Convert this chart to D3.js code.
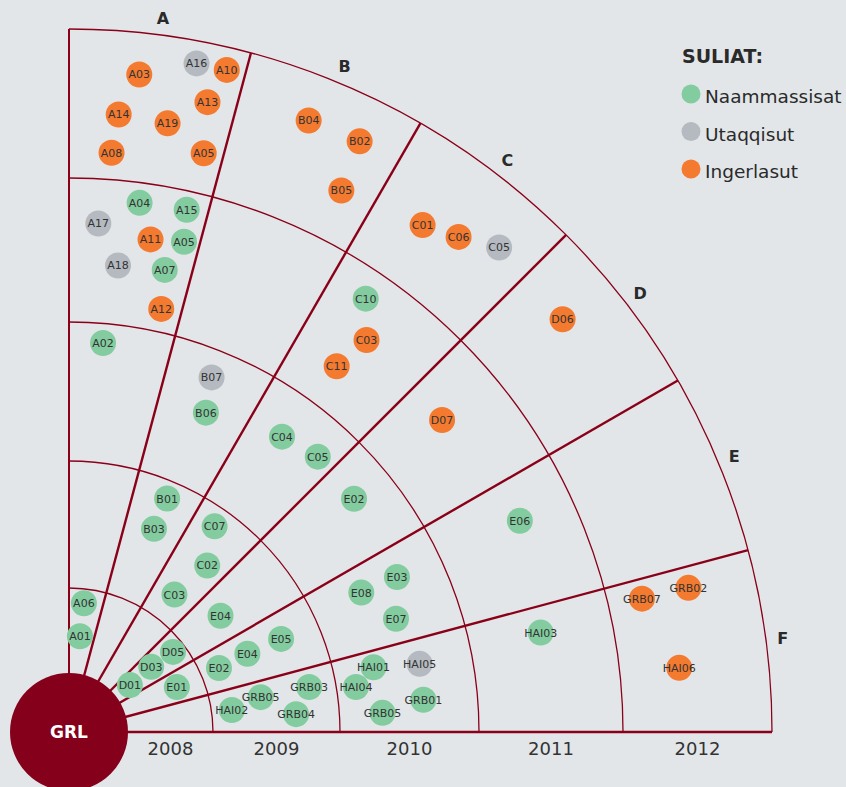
<!DOCTYPE html>
<html>
<head>
<meta charset="utf-8">
<script src="https://cdn.jsdelivr.net/npm/d3@7"></script>
<style>
  body { margin: 0; background: #e2e6e9; }
  svg { display: block; font-family: "DejaVu Sans", sans-serif; }
</style>
</head>
<body>
<div id="chart"></div>
<script>
// sectors (A at the top, F along the baseline)
const sectors = ["A", "B", "C", "D", "E", "F"];
// year rings
const years = [2008, 2009, 2010, 2011, 2012];
// legend / status names
const statuses = ["Naammassisat", "Utaqqisut", "Ingerlasut"];

// [label, status index, position along the years, angle in degrees above the baseline]
const points = [
  ["A03", 2, 2012.22, 83.9], ["A16", 1, 2012.35, 79.2], ["A10", 2, 2012.35, 76.6],
  ["A13", 2, 2012.11, 77.6], ["A14", 2, 2011.94, 85.4], ["A19", 2, 2011.92, 80.8],
  ["A08", 2, 2011.68, 85.8], ["A05", 2, 2011.77, 76.9], ["A04", 0, 2011.36, 82.4],
  ["A15", 0, 2011.37, 77.3], ["A17", 1, 2011.19, 86.7], ["A11", 2, 2011.12, 80.6],
  ["A05", 0, 2011.15, 76.8], ["A18", 1, 2010.91, 84.0], ["A07", 0, 2010.93, 78.3],
  ["A12", 2, 2010.66, 77.7], ["A02", 0, 2010.36, 85.0], ["A06", 0, 2008.33, 83.4],
  ["A01", 0, 2007.94, 83.5],
  ["B04", 2, 2012.19, 68.6], ["B02", 2, 2012.20, 63.8], ["B05", 2, 2011.85, 63.3],
  ["B07", 1, 2010.30, 68.1], ["B06", 0, 2010.05, 66.8], ["B01", 0, 2009.36, 67.2],
  ["B03", 0, 2009.10, 67.3],
  ["C01", 2, 2011.93, 55.1], ["C06", 2, 2012.01, 51.8], ["C05", 1, 2012.13, 48.4],
  ["C10", 0, 2011.30, 55.6], ["C03", 2, 2011.07, 52.8], ["C11", 2, 2010.80, 53.8],
  ["C04", 0, 2010.17, 54.2], ["C05", 0, 2010.22, 47.9], ["C07", 0, 2009.35, 54.7],
  ["C02", 0, 2009.07, 50.3], ["C03", 0, 2008.73, 52.5],
  ["D06", 2, 2012.10, 39.9], ["D07", 2, 2011.03, 39.9], ["E02", 0, 2010.20, 39.3],
  ["E04", 0, 2008.87, 37.5], ["D05", 0, 2008.35, 37.6], ["D03", 0, 2008.04, 38.4],
  ["D01", 0, 2007.71, 37.6],
  ["E06", 0, 2011.11, 25.1], ["E03", 0, 2010.16, 25.3], ["E08", 0, 2009.88, 25.5],
  ["E07", 0, 2010.04, 19.1], ["E05", 0, 2009.19, 23.7], ["E04", 0, 2008.90, 23.7],
  ["E02", 0, 2008.65, 23.1], ["E01", 0, 2008.18, 22.6],
  ["HAI02", 0, 2008.66, 7.7], ["GRB05", 0, 2008.90, 10.3], ["GRB03", 0, 2009.29, 10.6],
  ["GRB04", 0, 2009.16, 4.5], ["HAI01", 0, 2009.79, 12.0], ["HAI05", 1, 2010.12, 11.0],
  ["HAI04", 0, 2009.64, 8.9], ["GRB01", 0, 2010.11, 5.2], ["GRB05", 0, 2009.81, 3.5],
  ["HAI03", 0, 2011.00, 11.9], ["GRB07", 2, 2011.73, 13.1], ["GRB02", 2, 2012.05, 13.1],
  ["HAI06", 2, 2011.90, 6.0]
];

const width = 846, height = 787;
const cx = 69, cy = 732;
const dark = "#8a0019";

const svg = d3.select("#chart").append("svg")
  .attr("width", width)
  .attr("height", height);

svg.append("rect").attr("width", width).attr("height", height).attr("fill", "#e2e6e9");

const g = svg.append("g").attr("transform", "translate(" + cx + "," + cy + ")");

// radial scale: ring edges sit half way between years
const r = d3.scaleLinear()
  .domain([2007.5, 2008.5, 2009.5, 2010.5, 2011.5, 2012.5])
  .range([59, 144, 271, 410, 554, 703]);

// sectors share the quarter circle, A on top
const sectorBand = d3.scaleBand().domain(sectors).range([90, 0]);
const color = d3.scaleOrdinal().domain(d3.range(3)).range(["#83cc9f", "#b5bac0", "#f47a30"]);

const rad = d => d * Math.PI / 180;
const px = (yr, deg) => r(yr) * Math.cos(rad(deg));
const py = (yr, deg) => -r(yr) * Math.sin(rad(deg));

// ring arcs
years.forEach(y => {
  const rr = r(y + 0.5);
  const p = d3.path();
  p.moveTo(0, -rr);
  p.arc(0, 0, rr, -Math.PI / 2, 0);
  g.append("path").attr("d", p.toString())
    .attr("fill", "none").attr("stroke", dark).attr("stroke-width", 1.3);
});

// sector dividers
const rMax = r(2012.5);
sectors.slice(0, -1).forEach(s => {
  const a = sectorBand(s);
  g.append("line")
    .attr("x1", 0).attr("y1", 0)
    .attr("x2", rMax * Math.cos(rad(a))).attr("y2", -rMax * Math.sin(rad(a)))
    .attr("stroke", dark).attr("stroke-width", 2.4);
});

// axes
g.append("line").attr("x1", 0).attr("y1", 0).attr("x2", 0).attr("y2", -rMax)
  .attr("stroke", dark).attr("stroke-width", 2);
g.append("line").attr("x1", 0).attr("y1", 0).attr("x2", rMax).attr("y2", 0)
  .attr("stroke", dark).attr("stroke-width", 2.6);

// sector labels
sectors.forEach(s => {
  const a = sectorBand(s) + sectorBand.bandwidth() / 2;
  g.append("text")
    .attr("x", 720 * Math.cos(rad(a)))
    .attr("y", -720 * Math.sin(rad(a)))
    .attr("dy", "0.35em")
    .attr("text-anchor", "middle")
    .attr("font-size", 16).attr("font-weight", "bold")
    .attr("fill", "#2a2a2a")
    .text(s);
});

// year labels
g.selectAll(".year").data(years).enter().append("text")
  .attr("class", "year")
  .attr("x", d => r(d))
  .attr("y", 23)
  .attr("text-anchor", "middle")
  .attr("font-size", 18)
  .attr("fill", "#333")
  .text(d => d);

// points
const pt = g.selectAll(".pt").data(points).enter().append("g")
  .attr("class", "pt")
  .attr("transform", d => "translate(" + px(d[2], d[3]) + "," + py(d[2], d[3]) + ")");
pt.append("circle").attr("r", 13).attr("fill", d => color(d[1]));
pt.append("text")
  .attr("text-anchor", "middle").attr("dy", "0.36em")
  .attr("font-size", 11).attr("fill", "#333")
  .text(d => d[0]);

// GRL hub
g.append("circle").attr("r", r(2007.5)).attr("fill", "#85001a");
g.append("text").attr("text-anchor", "middle").attr("dy", "0.36em")
  .attr("font-size", 17).attr("font-weight", "bold").attr("fill", "#fff")
  .text("GRL");

// legend
const legend = svg.append("g").attr("transform", "translate(682,0)");
legend.append("text").attr("x", 0).attr("y", 63)
  .attr("font-size", 19).attr("font-weight", "bold").attr("fill", "#2a2a2a")
  .text("SULIAT:");
const item = legend.selectAll(".item").data(statuses).enter().append("g")
  .attr("class", "item")
  .attr("transform", (d, i) => "translate(0," + (94 + i * 37.5) + ")");
item.append("circle").attr("cx", 9).attr("r", 9.5).attr("fill", (d, i) => color(i));
item.append("text").attr("x", 23).attr("y", 9)
  .attr("font-size", 18.5).attr("fill", "#2a2a2a")
  .text(d => d);
</script>
</body>
</html>
